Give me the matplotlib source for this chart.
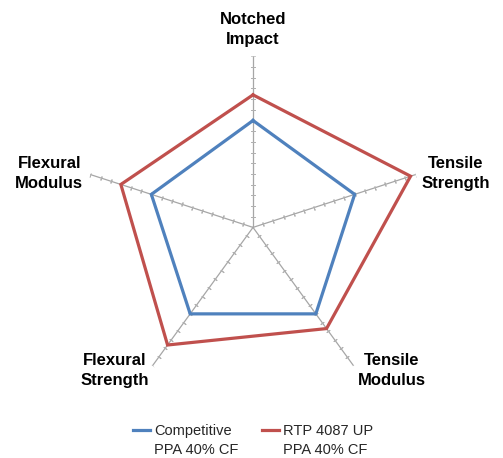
import numpy as np
import matplotlib
matplotlib.use('Agg')
import matplotlib.pyplot as plt
from matplotlib.lines import Line2D

# axis categories, clockwise from the top
categories = ['Notched\nImpact', 'Tensile\nStrength', 'Tensile\nModulus',
              'Flexural\nStrength', 'Flexural\nModulus']
competitive = [1.0, 1.0, 1.0, 1.0, 1.0]
rtp_4087 = [1.24, 1.55, 1.17, 1.36, 1.30]
series_names = [('Competitive', 'PPA 40% CF'), ('RTP 4087 UP', 'PPA 40% CF')]
r_max = 1.6
r_step = 0.1

# label offsets (pixels) from the end of each spoke
label_offsets = [(0, 27), (40, 1), (38, -5), (-38, -5), (-41, 1)]

blue = '#4F81BD'
red = '#C0504D'
grey = '#A6A6A6'

fig = plt.figure(figsize=(5.03, 4.58), dpi=100)
ax = fig.add_axes([0.163, 0.13, 0.68, 0.747], projection='polar')
ax.set_theta_offset(np.pi / 2)
ax.set_theta_direction(-1)
ax.set_ylim(0, r_max)
ax.grid(False)
ax.spines['polar'].set_visible(False)
ax.set_xticks([])
ax.set_yticks([])
ax.patch.set_alpha(0)

n = len(categories)
angles = np.linspace(0, 2 * np.pi, n, endpoint=False)
tick_r = np.arange(r_step, r_max + r_step / 2, r_step)

# spokes with small perpendicular tick marks
for i, a in enumerate(angles):
    ax.plot([a, a], [0, r_max], color=grey, lw=0.9, zorder=1)
    screen_deg = 90 - 72 * i
    ax.plot([a] * len(tick_r), tick_r, linestyle='none', color='#B0B0B0',
            marker=(2, 2, screen_deg), markersize=3, markeredgewidth=0.7, zorder=1)

closed = np.append(angles, angles[0])
l1, = ax.plot(closed, competitive + competitive[:1], color=blue, lw=2.3,
              zorder=3, solid_joinstyle='miter')
l2, = ax.plot(closed, rtp_4087 + rtp_4087[:1], color=red, lw=2.3,
              zorder=3, solid_joinstyle='miter')

for a, lab, off in zip(angles, categories, label_offsets):
    ax.annotate(lab, xy=(a, r_max), xytext=off, textcoords='offset pixels',
                ha='center', va='center', fontsize=12, fontweight='bold',
                linespacing=1.4, annotation_clip=False, family='Liberation Sans')

# legend: second label line gets an invisible handle so the line sits on the first row
blank = Line2D([], [], color='none')
handles = [l1, blank, l2, blank]
labels = [series_names[0][0], series_names[0][1], series_names[1][0], series_names[1][1]]
leg = fig.legend(handles, labels, loc='center', bbox_to_anchor=(0.503, 0.038), ncol=2,
                 frameon=False, prop={'family': 'Liberation Sans', 'size': 10.5},
                 handlelength=1.2, handletextpad=0.25, columnspacing=1.6,
                 labelspacing=0.3, borderpad=0.2)
for t in leg.get_texts():
    t.set_color('#262626')

fig.savefig('out.png', dpi=100)
